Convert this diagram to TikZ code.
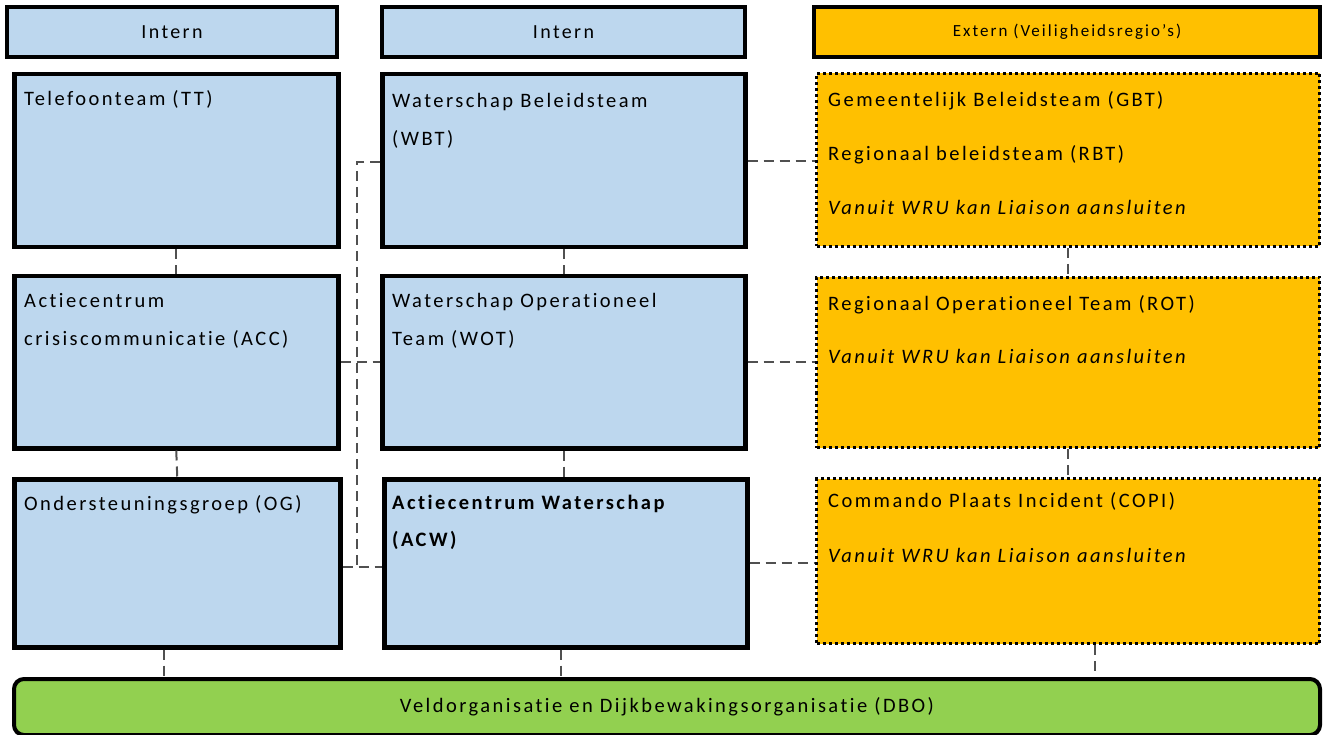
\documentclass[tikz,border=0pt]{standalone}
\usepackage{fontspec}
\setmainfont{Carlito}[LetterSpace=12, Ligatures={NoCommon}]
\usetikzlibrary{calc}
\definecolor{lblue}{HTML}{BDD7EE}
\definecolor{gold}{HTML}{FFC000}
\definecolor{lgreen}{HTML}{92D050}
\definecolor{conncol}{HTML}{505050}
\tikzset{
  bluebox/.style={draw=black, fill=lblue, line width=4.5pt, anchor=north west, inner sep=0pt},
  hdrbox/.style={draw=black, line width=4pt, anchor=north west, inner sep=0pt, minimum height=50pt,
    font=\fontsize{20}{24}\selectfont},
  goldbox/.style={draw=black, fill=gold, line width=3pt, dash pattern=on 3pt off 3pt, anchor=north west, inner sep=0pt},
  greenbox/.style={draw=black, fill=lgreen, line width=4pt, rounded corners=10pt, anchor=north west, inner sep=0pt,
    font=\fontsize{20.5}{24}\selectfont},
  txt/.style={anchor=mid west, inner sep=0pt, font=\fontsize{20.5}{24}\selectfont},
  conn/.style={draw=conncol, line width=2pt, dash pattern=on 10pt off 6pt},
}
\begin{document}
\begin{tikzpicture}[x=1pt,y=-1pt]
\useasboundingbox (0,0) rectangle (1323,735);
% headers
\node[hdrbox, fill=lblue, minimum width=330pt] (hdrL) at (5,5) {Intern};
\node[hdrbox, fill=lblue, minimum width=363pt] (hdrM) at (380,5) {Intern};
\node[hdrbox, fill=gold, minimum width=506pt, font=\fontsize{17}{20}\selectfont] (hdrR) at (812,5) {Extern (Veiligheidsregio's)};
% left column
\node[bluebox, minimum width=324pt, minimum height=173pt] (tt) at (12,72) {};
\node[bluebox, minimum width=324pt, minimum height=172pt] (acc) at (12,274) {};
\node[bluebox, minimum width=326pt, minimum height=168pt] (og) at (12,477) {};
% middle column
\node[bluebox, minimum width=363pt, minimum height=173pt] (wbt) at (380,72) {};
\node[bluebox, minimum width=363pt, minimum height=172pt] (wot) at (380,274) {};
\node[bluebox, minimum width=363pt, minimum height=168pt] (acw) at (382,477) {};
% right column
\node[goldbox, minimum width=503pt, minimum height=173pt] (gbt) at (815,72) {};
\node[goldbox, minimum width=503pt, minimum height=170pt] (rot) at (815,276) {};
\node[goldbox, minimum width=503pt, minimum height=165pt] (copi) at (815,477) {};
% bottom
\node[greenbox, minimum width=1306pt, minimum height=56pt] (dbo) at (12,677) {Veldorganisatie en Dijkbewakingsorganisatie (DBO)};
% texts
\node[txt] (ttT) at (24,103) {Telefoonteam (TT)};
\node[txt] (accT1) at (24,305) {Actiecentrum};
\node[txt] (accT2) at (24,343) {crisiscommunicatie (ACC)};
\node[txt] (ogT) at (24,508) {Ondersteuningsgroep (OG)};
\node[txt] (wbtT1) at (392,105) {Waterschap Beleidsteam};
\node[txt] (wbtT2) at (392,143) {(WBT)};
\node[txt] (wotT1) at (392,305) {Waterschap Operationeel};
\node[txt] (wotT2) at (392,343) {Team (WOT)};
\node[txt, font=\fontsize{20.5}{24}\selectfont\bfseries] (acwT1) at (392,507) {Actiecentrum Waterschap};
\node[txt, font=\fontsize{20.5}{24}\selectfont\bfseries] (acwT2) at (392,544) {(ACW)};
\node[txt] (gbtT1) at (828,104) {Gemeentelijk Beleidsteam (GBT)};
\node[txt] (gbtT2) at (828,158) {Regionaal beleidsteam (RBT)};
\node[txt, font=\fontsize{20.5}{24}\selectfont\itshape] (gbtT3) at (828,212) {Vanuit WRU kan Liaison aansluiten};
\node[txt] (rotT1) at (828,308) {Regionaal Operationeel Team (ROT)};
\node[txt, font=\fontsize{20.5}{24}\selectfont\itshape] (rotT2) at (828,361) {Vanuit WRU kan Liaison aansluiten};
\node[txt] (copiT1) at (828,505) {Commando Plaats Incident (COPI)};
\node[txt, font=\fontsize{20.5}{24}\selectfont\itshape] (copiT2) at (828,560) {Vanuit WRU kan Liaison aansluiten};
% vertical connectors
\draw[conn] (tt.south) -- (acc.north);
\draw[conn] (acc.south) -- (og.north);
\draw[conn] ([xshift=-13pt]og.south) -- ([xshift=-13pt]og.south |- dbo.north);
\draw[conn] (wbt.south) -- (wot.north);
\draw[conn] (wot.south) -- (wot.south |- acw.north);
\draw[conn] ([xshift=-5pt]acw.south) -- ([xshift=-5pt]acw.south |- dbo.north);
\draw[conn] (gbt.south) -- (rot.north);
\draw[conn] (rot.south) -- (copi.north);
\draw[conn] ([xshift=27pt]copi.south) -- ([xshift=27pt]copi.south |- dbo.north);
% horizontal connectors
\draw[conn] (wbt.east) -- (wbt.east -| gbt.west);
\draw[conn] (wot.east) -- (wot.east -| rot.west);
\draw[conn] (acw.east) -- (acw.east -| copi.west);
\draw[conn] (acc.east) -- (acc.east -| wot.west);
% bracket
\coordinate (brT) at (357,162);
\coordinate (brB) at (357,567);
\draw[conn] (wbt.west |- brT) -- (brT) -- (brB);
\draw[conn] (og.east |- brB) -- (acw.west |- brB);
\end{tikzpicture}
\end{document}
